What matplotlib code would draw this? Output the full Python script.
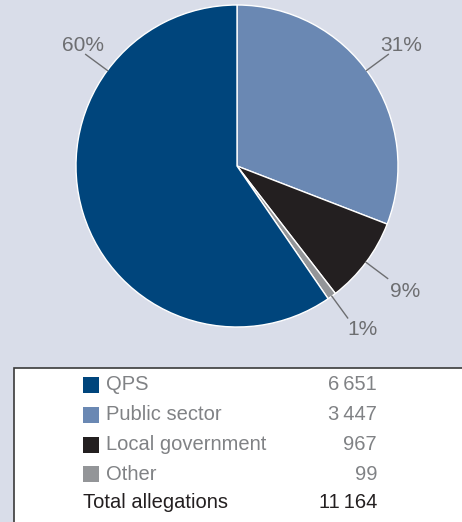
import numpy as np
import matplotlib.pyplot as plt
from matplotlib.patches import Rectangle

plt.rcParams['font.family'] = ['Liberation Sans', 'DejaVu Sans']

# allegations by sector, drawn clockwise from 12 o'clock
categories = ['Public sector', 'Local government', 'Other', 'QPS']
counts = [3447, 967, 99, 6651]
colors = ['#6a88b3', '#231f20', '#939598', '#00457c']

# legend order
legend_order = ['QPS', 'Public sector', 'Local government', 'Other']
total_label = 'Total allegations'

bg = '#d9dde9'
grey_text = '#6d6e71'

W, H = 462, 522
fig = plt.figure(figsize=(W / 100, H / 100), dpi=100, facecolor=bg)
ax = fig.add_axes([0, 0, 1, 1])

cx, cy, r = 237, H - 166, 161
wedges, _ = ax.pie(counts, colors=colors, startangle=90, counterclock=False,
                   center=(cx, cy), radius=r, frame=True,
                   wedgeprops=dict(edgecolor='white', linewidth=1))
ax.set_xlim(0, W)
ax.set_ylim(0, H)
ax.set_aspect('equal')
ax.axis('off')

total = sum(counts)


def fmt(n):
    return f'{n:,}'.replace(',', '\u2009')


# the two upper labels sit symmetrically; the others follow their slice
label_angle = {'QPS': 143.6, 'Public sector': 36.4}
# where each percentage sits relative to the end of its leader line
label_shift = {'QPS': (-3, 9), 'Public sector': (13, 9),
               'Local government': (17, -13), 'Other': (15, -12)}

for w, cat, n in zip(wedges, categories, counts):
    ang = label_angle.get(cat, (w.theta1 + w.theta2) / 2)
    a = np.deg2rad(ang)
    x0, y0 = cx + r * np.cos(a), cy + r * np.sin(a)
    x1, y1 = cx + (r + 27) * np.cos(a), cy + (r + 27) * np.sin(a)
    ax.plot([x0, x1], [y0, y1], color=grey_text, lw=1)
    dx, dy = label_shift[cat]
    ax.text(x1 + dx, y1 + dy, f'{round(100 * n / total)}%', ha='center',
            va='center', fontsize=15, color=grey_text)

# legend table
ax.add_patch(Rectangle((14, -10), W, H - 368 + 10, facecolor='white',
                       edgecolor='#3a3a3a', lw=1.2))
row_y = [H - 385, H - 415, H - 445, H - 474]
for name, y in zip(legend_order, row_y):
    i = categories.index(name)
    ax.add_patch(Rectangle((83, y - 8), 16, 16, facecolor=colors[i],
                           edgecolor='none'))
    ax.text(106, y, name, ha='left', va='center', fontsize=14.5,
            color='#808285')
    ax.text(377, y, fmt(counts[i]), ha='right', va='center', fontsize=14.5,
            color='#808285')
ax.text(83, H - 502, total_label, ha='left', va='center', fontsize=14.5,
        color='#231f20')
ax.text(377, H - 502, fmt(total), ha='right', va='center', fontsize=14.5,
        color='#231f20')

fig.savefig('out.png', dpi=100, facecolor=bg)
